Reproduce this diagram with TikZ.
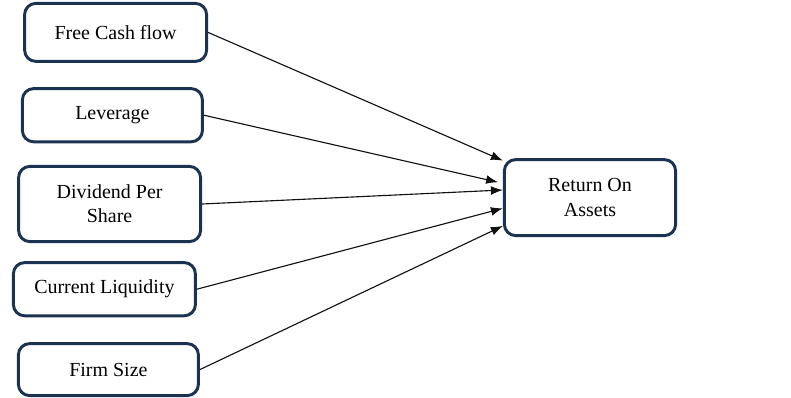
\documentclass[tikz,border=0pt]{standalone}
\usepackage{fontspec}
\setmainfont{Liberation Serif}
\usetikzlibrary{arrows.meta, positioning, calc}
\definecolor{boxnavy}{HTML}{1B3350}
\definecolor{arrowblack}{HTML}{111111}
\tikzset{
  varbox/.style={draw=boxnavy, line width=2.1pt, rounded corners=8pt, fill=white,
    align=center, inner sep=2pt, font=\fontsize{14.2}{17.3}\selectfont},
  link/.style={draw=arrowblack, line width=0.8pt, -{Latex[length=3mm, width=2.2mm]}}
}
\begin{document}
\begin{tikzpicture}
          \useasboundingbox (0,0) rectangle (19.775,-9.925);
          % Variables independientes
          \node[varbox, minimum width=4.55cm, minimum height=1.45cm] (fcf) at (2.89,-0.81) {Free Cash flow};
          \node[varbox, minimum width=4.5cm, minimum height=1.33cm] (lev) at (2.81,-2.88) {Leverage};
          \node[varbox, minimum width=4.55cm, minimum height=1.88cm] (dps) at (2.74,-5.10) {Dividend Per\\Share};
          \node[varbox, minimum width=4.55cm, minimum height=1.33cm] (liq) at (2.61,-7.23) {Current Liquidity};
          \node[varbox, minimum width=4.5cm, minimum height=1.3cm] (size) at (2.71,-9.24) {Firm Size};
          % Variable dependiente
          \node[varbox, minimum width=4.28cm, minimum height=1.9cm] (roa) at (14.75,-4.94) {Return On\\Assets};
          % Flechas
          \draw[link] (fcf.east) -- (roa.157);
          \draw[link] (lev.east) -- ($(roa.170)+(-0.12,0)$);
          \draw[link] (dps.east) -- (roa.175);
          \draw[link] (liq.east) -- (roa.187);
          \draw[link] (size.east) -- (roa.198);
        \end{tikzpicture}
\end{document}
